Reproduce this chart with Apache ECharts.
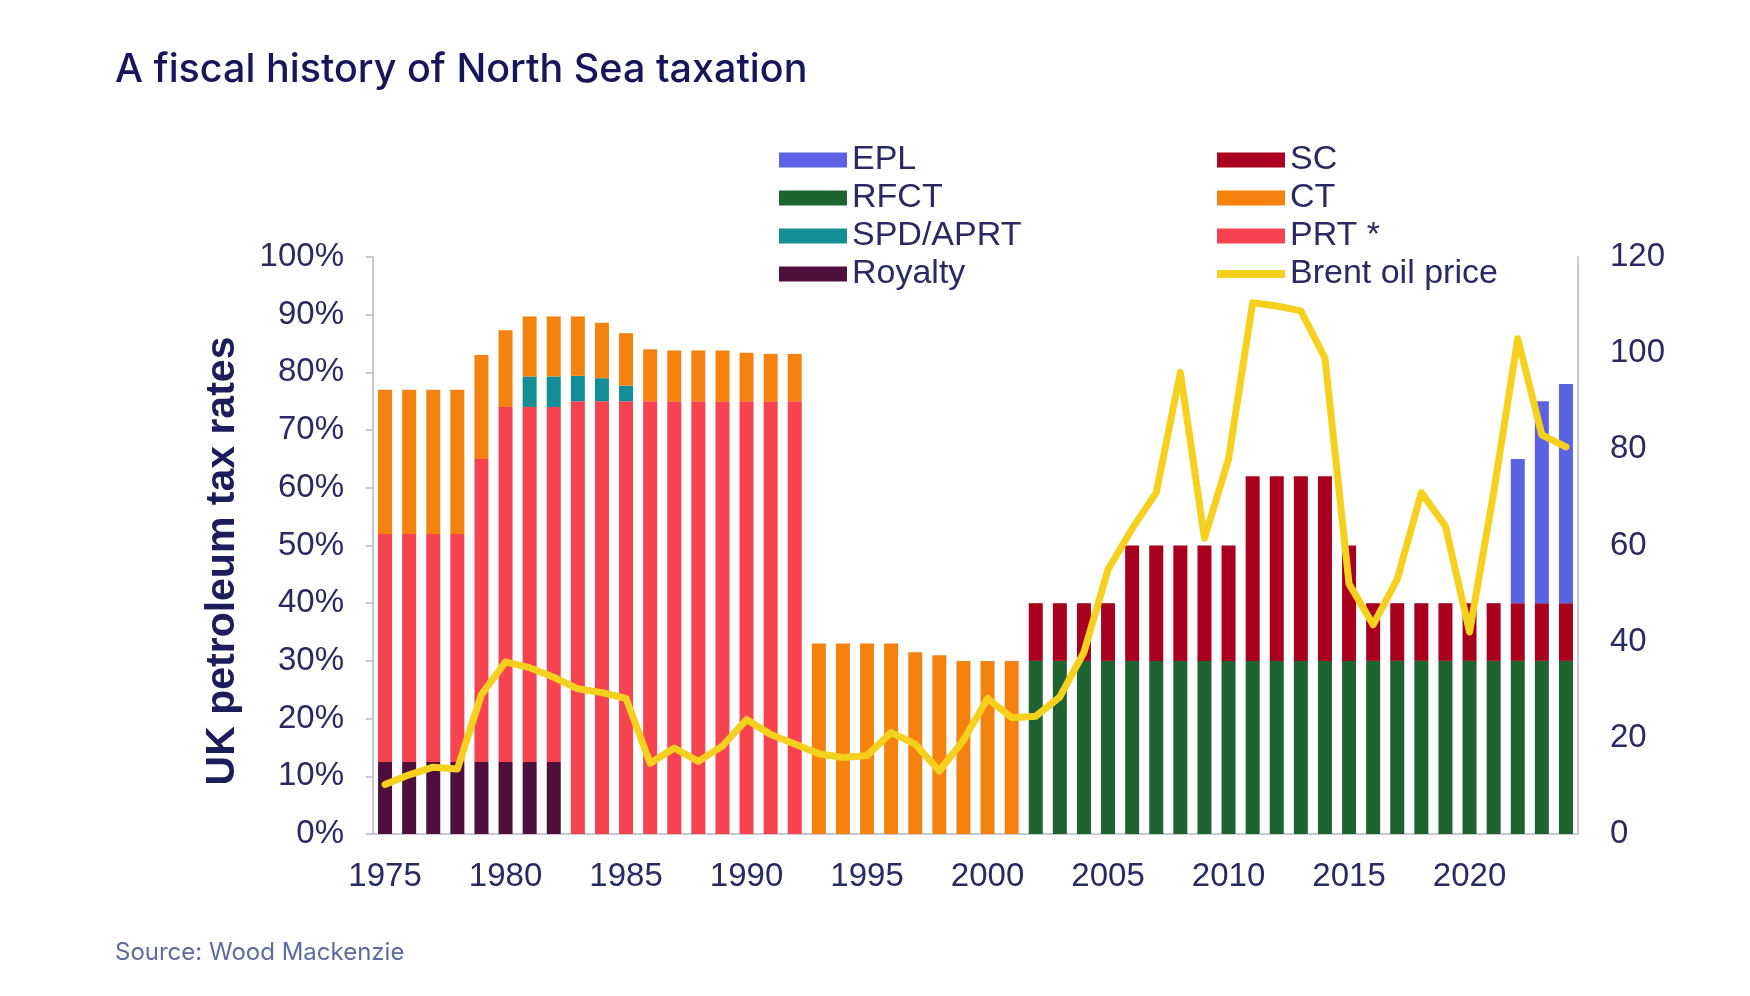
<!DOCTYPE html>
<html>
<head>
<meta charset="utf-8">
<script src="https://cdn.jsdelivr.net/npm/echarts@6/dist/echarts.min.js"></script>
<style>
  html, body { margin: 0; padding: 0; background: #ffffff; }
  #chart { width: 1750px; height: 996px; }
</style>
</head>
<body>
<div id="chart"></div>
<script>
// ---- Data ----
const N = null;
const years = [
  '1975','1976','1977','1978','1979','1980','1981','1982','1983','1984',
  '1985','1986','1987','1988','1989','1990','1991','1992','1993','1994',
  '1995','1996','1997','1998','1999','2000','2001','2002','2003','2004',
  '2005','2006','2007','2008','2009','2010','2011','2012','2013','2014',
  '2015','2016','2017','2018','2019','2020','2021','2022','2023','2024'
];

// Stacked segment heights (percentage points), one row per decade block
const royalty = [
  12.5,12.5,12.5,12.5,12.5,12.5,12.5,12.5,N,N,
  N,N,N,N,N,N,N,N,N,N,
  N,N,N,N,N,N,N,N,N,N,
  N,N,N,N,N,N,N,N,N,N,
  N,N,N,N,N,N,N,N,N,N
];
const prt = [
  39.5,39.5,39.5,39.5,52.5,61.5,61.5,61.5,75,75,
  75,75,75,75,75,75,75,75,N,N,
  N,N,N,N,N,N,N,N,N,N,
  N,N,N,N,N,N,N,N,N,N,
  N,N,N,N,N,N,N,N,N,N
];
const spdAprt = [
  N,N,N,N,N,N,5.3,5.3,4.4,4.0,
  2.7,N,N,N,N,N,N,N,N,N,
  N,N,N,N,N,N,N,N,N,N,
  N,N,N,N,N,N,N,N,N,N,
  N,N,N,N,N,N,N,N,N,N
];
const ct = [
  25,25,25,25,18,13.3,10.4,10.4,10.3,9.6,
  9.1,9,8.8,8.8,8.8,8.4,8.2,8.2,33,33,
  33,33,31.5,31,30,30,30,N,N,N,
  N,N,N,N,N,N,N,N,N,N,
  N,N,N,N,N,N,N,N,N,N
];
const rfct = [
  N,N,N,N,N,N,N,N,N,N,
  N,N,N,N,N,N,N,N,N,N,
  N,N,N,N,N,N,N,30,30,30,
  30,30,30,30,30,30,30,30,30,30,
  30,30,30,30,30,30,30,30,30,30
];
const sc = [
  N,N,N,N,N,N,N,N,N,N,
  N,N,N,N,N,N,N,N,N,N,
  N,N,N,N,N,N,N,10,10,10,
  10,20,20,20,20,20,32,32,32,32,
  20,10,10,10,10,10,10,10,10,10
];
const epl = [
  N,N,N,N,N,N,N,N,N,N,
  N,N,N,N,N,N,N,N,N,N,
  N,N,N,N,N,N,N,N,N,N,
  N,N,N,N,N,N,N,N,N,N,
  N,N,N,N,N,N,N,25,35,38
];

// Brent oil price (right axis, $/bbl)
const brent = [
  10.3,12.3,13.9,13.5,29,35.8,34.6,32.6,30.2,29.4,
  28.2,14.7,17.9,15.1,18.3,23.8,20.7,18.7,16.7,15.9,
  16.3,21.1,18.7,13.1,19.5,28.2,24.2,24.5,28.5,37.8,
  55,63.5,71,96,61.5,78,110.5,109.8,108.8,99,
  52,43.5,53,71,64,42,71,103,83,80.5
];

const leftTicks = [0,10,20,30,40,50,60,70,80,90,100];
const rightTicks = [0,20,40,60,80,100,120];

// ---- Styling ----
const NAVY = '#2A2A62';
const AXIS_GREY = '#C9C9D4';
const LABEL_FONT = '"Liberation Sans", Arial, sans-serif';

const colors = {
  'EPL': '#5B63E3',
  'RFCT': '#1E6431',
  'SPD/APRT': '#138E96',
  'Royalty': '#4E0F3B',
  'SC': '#A8001E',
  'CT': '#F5820F',
  'PRT *': '#F7424F',
  'Brent oil price': '#F5D11E'
};

function barSeries(name, data) {
  return {
    name: name,
    type: 'bar',
    stack: 'tax',
    barWidth: 14,
    data: data,
    itemStyle: { color: colors[name] },
    emphasis: { disabled: true }
  };
}

const legendCommon = {
  orient: 'vertical',
  itemWidth: 68,
  itemHeight: 15,
  itemGap: 4,
  selectedMode: false,
  textStyle: { fontFamily: LABEL_FONT, fontSize: 34, color: NAVY, lineHeight: 33 }
};

const chart = echarts.init(document.getElementById('chart'), null, { renderer: 'canvas' });

chart.setOption({
  backgroundColor: '#ffffff',
  animation: false,
  grid: { left: 373, right: 172, top: 257, bottom: 162, containLabel: false },
  legend: [
    Object.assign({}, legendCommon, {
      left: 774, top: 138,
      data: [
        { name: 'EPL', icon: 'rect' },
        { name: 'RFCT', icon: 'rect' },
        { name: 'SPD/APRT', icon: 'rect' },
        { name: 'Royalty', icon: 'rect' }
      ]
    }),
    Object.assign({}, legendCommon, {
      left: 1212, top: 138,
      data: [
        { name: 'SC', icon: 'rect' },
        { name: 'CT', icon: 'rect' },
        { name: 'PRT *', icon: 'rect' },
        { name: 'Brent oil price', icon: 'path://M0,0H66V8H0Z', itemStyle: { borderWidth: 0 } }
      ]
    })
  ],
  xAxis: {
    type: 'category',
    data: years,
    boundaryGap: true,
    axisLine: { show: true, lineStyle: { color: AXIS_GREY, width: 2 } },
    axisTick: { show: false },
    axisLabel: {
      interval: 4,
      margin: 26,
      fontFamily: LABEL_FONT,
      fontSize: 33,
      color: NAVY
    }
  },
  yAxis: [
    {
      type: 'value',
      min: 0, max: 100, interval: 10,
      axisLine: { show: true, lineStyle: { color: AXIS_GREY, width: 2 } },
      axisTick: { show: true, length: 7, lineStyle: { color: AXIS_GREY, width: 2 } },
      splitLine: { show: false },
      axisLabel: {
        margin: 29,
        fontFamily: LABEL_FONT,
        fontSize: 33,
        color: NAVY,
        formatter: function (v) { return leftTicks.indexOf(v) >= 0 ? v + '%' : ''; }
      }
    },
    {
      type: 'value',
      min: 0, max: 120, interval: 20,
      position: 'right',
      axisLine: { show: true, lineStyle: { color: AXIS_GREY, width: 2 } },
      axisTick: { show: false },
      splitLine: { show: false },
      axisLabel: {
        margin: 32,
        fontFamily: LABEL_FONT,
        fontSize: 33,
        color: NAVY,
        formatter: function (v) { return rightTicks.indexOf(v) >= 0 ? String(v) : ''; }
      }
    }
  ],
  series: [
    barSeries('Royalty', royalty),
    barSeries('RFCT', rfct),
    barSeries('PRT *', prt),
    barSeries('SPD/APRT', spdAprt),
    barSeries('CT', ct),
    barSeries('SC', sc),
    barSeries('EPL', epl),
    {
      name: 'Brent oil price',
      type: 'line',
      yAxisIndex: 1,
      data: brent,
      symbol: 'none',
      smooth: false,
      z: 5,
      lineStyle: { color: colors['Brent oil price'], width: 7, join: 'round', cap: 'round' },
      itemStyle: { color: colors['Brent oil price'] },
      emphasis: { disabled: true }
    }
  ],
  graphic: [
    {
      type: 'text',
      left: 115,
      top: 50,
      style: {
        text: 'A fiscal history of North Sea taxation',
        font: '500 39.5px Inter, "Noto Sans", sans-serif',
        fill: '#17165A'
      }
    },
    {
      type: 'text',
      x: 223,
      y: 561,
      rotation: Math.PI / 2,
      style: {
        text: 'UK petroleum tax rates',
        font: 'bold 41px "Liberation Sans", Arial, sans-serif',
        fill: '#1E1D5C',
        align: 'center',
        verticalAlign: 'middle'
      }
    },
    {
      type: 'text',
      left: 115,
      top: 941,
      style: {
        text: 'Source: Wood Mackenzie',
        font: '400 24px Inter, "Noto Sans", sans-serif',
        fill: '#5C6C9C'
      }
    }
  ]
});
</script>
</body>
</html>
